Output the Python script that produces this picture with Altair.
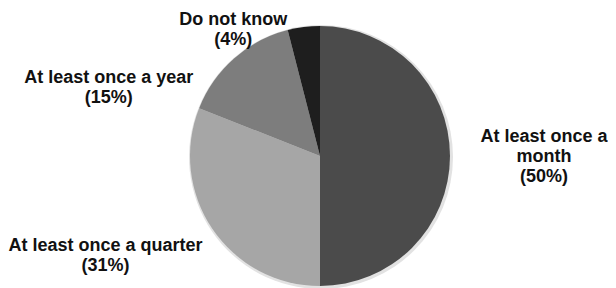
import altair as alt
import pandas as pd

categories = ["At least once a month", "At least once a quarter", "At least once a year", "Do not know"]
wrapped = ["At least once a\nmonth", "At least once a quarter", "At least once a year", "Do not know"]
values = [50, 31, 15, 4]
colors = ["#4b4b4b", "#a6a6a6", "#7d7d7d", "#1e1e1e"]

df = pd.DataFrame({
    "category": categories,
    "value": values,
    "order": list(range(len(categories))),
    "label": [w + "\n(" + str(v) + "%)" for w, v in zip(wrapped, values)],
})

CX, CY, R = 312, 148, 130

base = alt.Chart(df)

shadow = base.mark_arc(radius=R + 2, color="#e2e2e2").encode(
    theta=alt.Theta("value:Q", stack=True),
    order=alt.Order("order:Q"),
    x=alt.value(CX + 1), y=alt.value(CY + 1),
)

pie = base.mark_arc(radius=R).encode(
    theta=alt.Theta("value:Q", stack=True),
    order=alt.Order("order:Q"),
    color=alt.Color("category:N", scale=alt.Scale(domain=categories, range=colors), legend=None),
    x=alt.value(CX), y=alt.value(CY),
)

# label placement: (radius, dx, dy) per category
placement = {
    "At least once a month": (230, -6, -19),
    "At least once a quarter": (240, -16, -45),
    "At least once a year": (200, -79, 72),
    "Do not know": (150, -68, 13),
}

labels = []
for cat in categories:
    r, dx, dy = placement[cat]
    t = (
        base.transform_stack(stack="value", groupby=[], sort=[alt.SortField("order")], as_=["v0", "v1"])
        .transform_calculate(mid="(datum.v0 + datum.v1) / 2")
        .transform_filter(alt.datum.category == cat)
        .mark_text(radius=r, dx=dx, dy=dy, font="Liberation Sans", fontWeight="bold",
                   fontSize=18, lineHeight=20, lineBreak="\n", align="center",
                   baseline="middle", color="#111111")
        .encode(
            theta=alt.Theta("mid:Q", scale=alt.Scale(domain=[0, 100]), stack=None),
            text="label:N",
            x=alt.value(CX), y=alt.value(CY),
        )
    )
    labels.append(t)

chart = alt.layer(shadow, pie, *labels).properties(
    width=600, height=280, padding=0, autosize=alt.AutoSizeParams(type="none")
).configure_view(stroke=None)

chart.save("out.html", embed_options={"renderer": "svg", "actions": False})
